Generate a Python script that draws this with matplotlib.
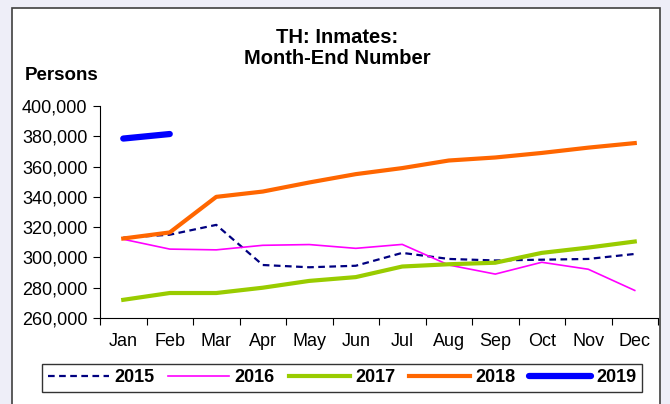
import numpy as np
import matplotlib.pyplot as plt
from matplotlib.patches import Rectangle
from matplotlib.ticker import FuncFormatter

plt.rcParams['font.family'] = ['Liberation Sans', 'DejaVu Sans']

months = ["Jan", "Feb", "Mar", "Apr", "May", "Jun", "Jul", "Aug", "Sep", "Oct", "Nov", "Dec"]
y2015 = [313000, 315000, 321500, 295000, 293500, 294500, 303000, 299000, 298000, 298500, 299000, 302300]
y2016 = [312000, 305500, 305000, 308000, 308500, 306000, 308600, 295000, 289000, 296800, 292200, 278200]
y2017 = [272000, 276500, 276500, 280000, 284500, 287000, 294000, 295500, 296500, 303000, 306500, 310500]
y2018 = [312500, 316500, 340000, 343500, 349500, 355000, 359000, 364000, 366000, 369000, 372500, 375500]
y2019 = [378500, 381500]

fig = plt.figure(figsize=(6.7, 4.04), dpi=100)
fig.patch.set_facecolor("#eeeef8")
# white chart area with a grey frame
frame = Rectangle((12/670, -0.05), 648/670, 1.05 - 8/404, transform=fig.transFigure,
                  facecolor="white", edgecolor="#404040", linewidth=1.2, zorder=-10)
fig.patches.append(frame)

ax = fig.add_axes([100/670, 86/404, 558/670, 212/404])
ax.set_zorder(1)
ax.set_facecolor("none")
x = np.arange(1, 13)

ax.plot(x, y2015, color="#000080", lw=1.6, ls=(0, (3, 2)), label="2015")
ax.plot(x, y2016, color="#FF00FF", lw=1.2, label="2016")
ax.plot(x, y2017, color="#99CC00", lw=3.0, label="2017")
ax.plot(x, y2018, color="#FF6600", lw=3.0, label="2018")
ax.plot(x[:len(y2019)], y2019, color="#0000FF", lw=4.5, solid_capstyle="round", label="2019")

ax.set_xlim(0.5, 12.5)
ax.set_ylim(260000, 400000)
ax.set_yticks(np.arange(260000, 400001, 20000))
ax.yaxis.set_major_formatter(FuncFormatter(lambda v, p: f"{int(v):,}"))
ax.set_xticks(np.arange(0.5, 12.6, 1))
ax.set_xticklabels([])
ax.set_xticks(x, minor=True)
ax.set_xticklabels(months, minor=True)
ax.tick_params(axis="x", which="minor", length=0, pad=11, labelsize=13)
ax.tick_params(axis="x", which="major", length=5, direction="out")
ax.tick_params(axis="y", length=5, direction="out", labelsize=13, pad=4)
for s in ["top", "right"]:
    ax.spines[s].set_visible(False)

fig.text(337/670, 1 - 48/404, "TH: Inmates:\nMonth-End Number", ha="center", va="center",
         fontsize=14.5, fontweight="bold", linespacing=1.1)
fig.text(25/670, 1 - 76/404, "Persons", ha="left", va="center", fontsize=13.5, fontweight="bold")

leg = fig.legend(loc="center", bbox_to_anchor=(342/670, 1 - 378/404), ncol=5, frameon=True,
                 fancybox=False, edgecolor="black", handlelength=3.4, handletextpad=0.3,
                 columnspacing=0.75, borderpad=0.3, prop={"weight": "bold", "size": 13})
leg.get_frame().set_linewidth(1.0)

fig.savefig("out.png", dpi=100, facecolor=fig.get_facecolor())
